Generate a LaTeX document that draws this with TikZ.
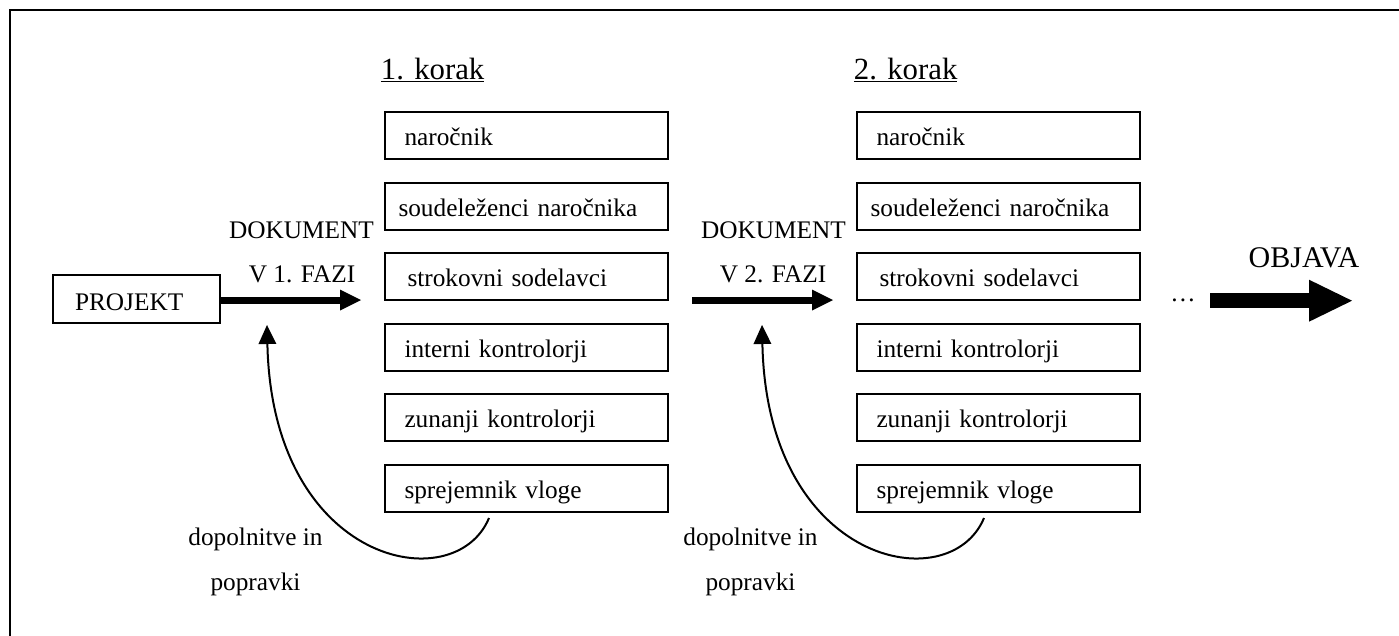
\documentclass[tikz,border=0pt]{standalone}
\usepackage{fontspec}
\setmainfont{Liberation Serif}
\usetikzlibrary{arrows.meta,calc}
\newcommand\fsz{\fontsize{25.3}{30}\selectfont}
\tikzset{
  box/.style={draw, line width=2pt, minimum width=283.5pt, minimum height=47pt,
    text width=243.5pt, inner xsep=20pt, inner ysep=0pt, align=left,
    text height=25pt, text depth=5pt, font=\fsz},
  projbox/.style={draw, line width=2pt, minimum width=167pt, minimum height=48pt,
    text width=123pt, inner xsep=22pt, inner ysep=0pt, align=left,
    text height=26pt, text depth=4pt, font=\fsz},
  lbl/.style={anchor=base, inner sep=0pt, font=\fsz},
  head/.style={anchor=base west, inner sep=0pt, font=\fontsize{30.8}{36}\selectfont},
  bigarrow/.style={line width=7pt, -{Triangle[length=21pt,width=21pt,line width=0pt]}},
  hugearrow/.style={line width=15pt, -{Triangle[length=43pt,width=42pt,line width=0pt]}},
  loop/.style={line width=2pt, -{Triangle[length=19pt,width=18pt,line width=0pt]}},
}
\begin{document}
\begin{tikzpicture}[x=1pt,y=-1pt]
\useasboundingbox (0,0) rectangle (1399,635);
\draw[line width=1.5pt] (10,640) -- (10,10) -- (1405,10);

% headings
\node[head] (h1) at (380.7,79) {\underline{1. korak}};
\node[head] (h2) at (853.7,79) {\underline{2. korak}};

% column 1
\node[box] (a1) at (526.25,135.5) {naročnik};
\node[box] (b1) at (526.25,206) {\hspace*{-6pt}soudeleženci naročnika};
\node[box] (c1) at (526.25,276.5) {\hspace*{3pt}strokovni sodelavci};
\node[box] (d1) at (526.25,347) {interni kontrolorji};
\node[box] (e1) at (526.25,417.5) {zunanji kontrolorji};
\node[box] (f1) at (526.25,488) {sprejemnik vloge};
% column 2
\node[box] (a2) at (998.25,135.5) {naročnik};
\node[box] (b2) at (998.25,206) {\hspace*{-6pt}soudeleženci naročnika};
\node[box] (c2) at (998.25,276.5) {\hspace*{3pt}strokovni sodelavci};
\node[box] (d2) at (998.25,347) {interni kontrolorji};
\node[box] (e2) at (998.25,417.5) {zunanji kontrolorji};
\node[box] (f2) at (998.25,488) {sprejemnik vloge};

% project
\node[projbox] (proj) at (136.5,299) {PROJEKT};

% labels
\node[lbl] (dk1) at (301.5,238) {DOKUMENT};
\node[lbl] (fz1) at (302,282) {V 1. FAZI};
\node[lbl] (dk2) at (773.5,238) {DOKUMENT};
\node[lbl] (fz2) at (773,282) {V 2. FAZI};
\node[lbl] (dp1) at (255.5,545.5) {dopolnitve in};
\node[lbl] (pp1) at (255.5,590) {popravki};
\node[lbl] (dp2) at (750.5,545.5) {dopolnitve in};
\node[lbl] (pp2) at (750.5,590) {popravki};
\node[lbl] (dots) at (1183,301) {…};
\node[anchor=base, inner sep=0pt, font=\fontsize{30}{36}\selectfont] (obj) at (1304,267) {OBJAVA};

% coordinates
\coordinate (t1) at (361,300);
\coordinate (s2) at (692,300);
\coordinate (t2) at (833,300);
\coordinate (s3) at (1210,300.7);
\coordinate (t3) at (1352,300.7);
\coordinate (l1s) at (489,518);
\coordinate (l1e) at (267,325);
\coordinate (l2s) at (984,518);
\coordinate (l2e) at (762,325);

% arrows
\draw[bigarrow] (proj.east |- t1) -- (t1);
\draw[bigarrow] (s2) -- (t2);
\draw[hugearrow] (s3) -- (t3);
\draw[loop] (l1s) .. controls ($(l1s)+(-34,82)$) and ($(l1e)+(5,240)$) .. (l1e);
\draw[loop] (l2s) .. controls ($(l2s)+(-34,82)$) and ($(l2e)+(5,240)$) .. (l2e);
\end{tikzpicture}
\end{document}
